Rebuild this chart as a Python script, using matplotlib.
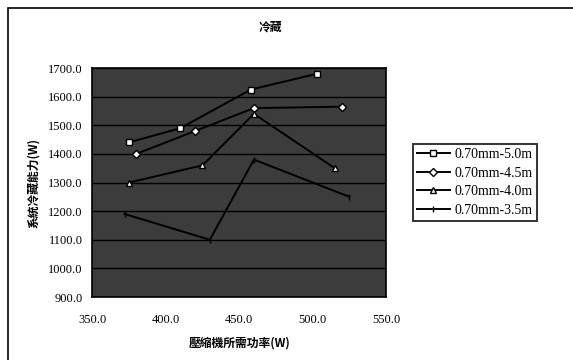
import numpy as np
import matplotlib.pyplot as plt
from matplotlib.patches import Rectangle

plt.rcParams['font.family'] = ['Liberation Serif', 'Noto Sans CJK TC', 'DejaVu Sans']

# --------------------- 数据 ---------------------
series_names = ['0.70mm-5.0m', '0.70mm-4.5m', '0.70mm-4.0m', '0.70mm-3.5m']
power_50 = [375, 410, 458, 503]
cap_50 = [1440, 1490, 1625, 1680]
power_45 = [380, 420, 460, 520]
cap_45 = [1400, 1480, 1560, 1565]
power_40 = [375, 425, 460, 515]
cap_40 = [1300, 1360, 1540, 1350]
power_35 = [372, 430, 460, 525]
cap_35 = [1190, 1100, 1380, 1250]

xticks = [350.0, 400.0, 450.0, 500.0, 550.0]
yticks = [900.0, 1000.0, 1100.0, 1200.0, 1300.0, 1400.0, 1500.0, 1600.0, 1700.0]

fig = plt.figure(figsize=(5.73, 3.6), dpi=100)
fig.patch.set_facecolor('white')
# 外框
fig.add_artist(Rectangle((8 / 573, -0.01), 1.0, 1 - 8 / 360 + 0.01,
                         transform=fig.transFigure, fill=False,
                         edgecolor='black', linewidth=1.2))

ax = fig.add_axes([0.161, 0.175, 0.513, 0.636])
ax.set_facecolor('#3c3c3c')

markers = ['s', 'D', '^', '|']
data = [(power_50, cap_50), (power_45, cap_45), (power_40, cap_40), (power_35, cap_35)]
for (xs, ys), m, name in zip(data, markers, series_names):
    ax.plot(xs, ys, color='black', linewidth=1.4, marker=m, markersize=4,
            markerfacecolor='white', markeredgecolor='black', label=name)

ax.set_xlim(350, 550)
ax.set_ylim(900, 1700)
ax.set_xticks(xticks)
ax.set_yticks(yticks)
ax.set_xticklabels([f'{v:.1f}' for v in xticks], fontsize=9)
ax.set_yticklabels([f'{v:.1f}' for v in yticks], fontsize=9)
ax.tick_params(axis='x', length=0, pad=12)
ax.tick_params(axis='y', length=0, pad=7)
ax.grid(True, axis='y', color='black', linewidth=1.0)
for s in ax.spines.values():
    s.set_linewidth(1.2)

ax.set_xlabel('壓縮機所需功率(W)', fontsize=8.5, fontweight='bold',
              family=['Noto Sans CJK TC', 'DejaVu Sans'], labelpad=8)
ax.set_ylabel('系統冷藏能力(W)', fontsize=8.5, fontweight='bold',
              family=['Noto Sans CJK TC', 'DejaVu Sans'], labelpad=6)
fig.text(0.472, 0.915, '冷藏', fontsize=8.5, fontweight='bold', ha='center',
         family=['Noto Sans CJK TC', 'DejaVu Sans'])

leg = ax.legend(loc='center left', bbox_to_anchor=(1.09, 0.5), fontsize=10,
                frameon=True, fancybox=False, edgecolor='black',
                handlelength=2.4, handletextpad=0.3, borderpad=0.3,
                labelspacing=0.4, borderaxespad=0)
leg.get_frame().set_linewidth(1.4)

fig.savefig('out.png', dpi=100)
